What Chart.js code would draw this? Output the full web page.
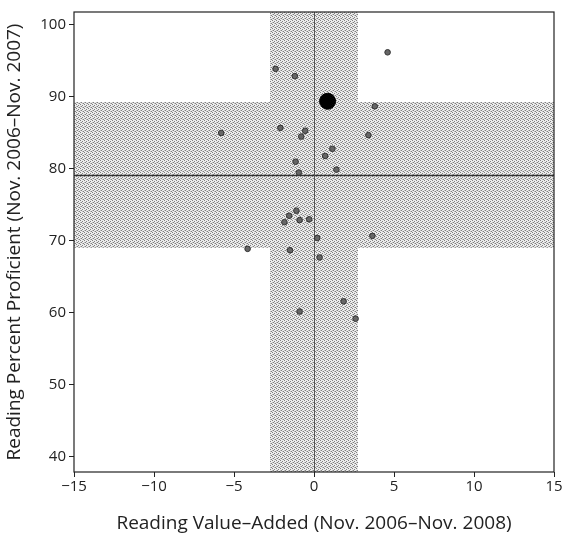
<!DOCTYPE html>
<html>
<head>
<meta charset="utf-8">
<script src="https://cdn.jsdelivr.net/npm/chart.js@4"></script>
<style>
  html, body { margin: 0; padding: 0; background: #fff; }
  #wrap { width: 564px; height: 539px; }
</style>
</head>
<body>
<div id="wrap"><canvas id="myChart" width="564" height="539"></canvas></div>
<script>
// school values (value-added vs percent proficient)
var valueAdded = [4.6, -2.4, -1.2, 3.8, -2.1, -0.55, -0.8, 3.4, 1.15, 0.7, -1.15, 1.4, -0.95,
  -1.1, -1.55, -1.85, -0.9, -0.3, 0.2, 3.65, -4.15, -1.5, 0.35, 1.85, -0.9, 2.6, -5.8];
var proficient = [96.2, 93.9, 92.9, 88.7, 85.7, 85.3, 84.5, 84.7, 82.8, 81.8, 81.0, 79.9, 79.5,
  74.2, 73.5, 72.6, 72.9, 73.0, 70.4, 70.7, 68.9, 68.7, 67.7, 61.6, 60.2, 59.2, 85.0];

// highlighted school
var focusX = [0.85];
var focusY = [89.4];

// means and bands (mean +/- one sd)
var meanX = 0;
var meanY = 79.1;
var bandX = [-2.75, 2.75];
var bandY = [69.05, 89.3];

var xTicks = [-15, -10, -5, 0, 5, 10, 15];
var yTicks = [40, 50, 60, 70, 80, 90, 100];

function makePoints(xs, ys) {
  var out = [];
  for (var i = 0; i < xs.length; i++) out.push({ x: xs[i], y: ys[i] });
  return out;
}

// stipple pattern for the shaded bands
function stipple(ctx) {
  var c = document.createElement("canvas");
  c.width = 4; c.height = 4;
  var p = c.getContext("2d");
  p.fillStyle = "#ececec";
  p.fillRect(0, 0, 4, 4);
  p.fillStyle = "#808080";
  p.fillRect(0, 0, 1, 1);
  p.fillRect(2, 1, 1, 1);
  p.fillRect(1, 2, 1, 1);
  p.fillRect(3, 3, 1, 1);
  p.fillStyle = "#bcbcbc";
  p.fillRect(2, 3, 1, 1);
  p.fillRect(0, 2, 1, 1);
  return ctx.createPattern(c, "repeat");
}

var bandsPlugin = {
  id: "bands",
  beforeDatasetsDraw: function (chart) {
    var ctx = chart.ctx;
    var a = chart.chartArea;
    var xs = chart.scales.x, ys = chart.scales.y;
    ctx.save();
    ctx.fillStyle = stipple(ctx);
    var y1 = ys.getPixelForValue(bandY[1]), y0 = ys.getPixelForValue(bandY[0]);
    ctx.fillRect(a.left, y1, a.right - a.left, y0 - y1);
    var x0 = xs.getPixelForValue(bandX[0]), x1 = xs.getPixelForValue(bandX[1]);
    ctx.fillRect(x0, a.top, x1 - x0, a.bottom - a.top);

    // mean lines
    ctx.strokeStyle = "#333";
    ctx.lineWidth = 1.5;
    var my = Math.round(ys.getPixelForValue(meanY)) + 0.5;
    ctx.beginPath(); ctx.moveTo(a.left, my); ctx.lineTo(a.right, my); ctx.stroke();
    ctx.strokeStyle = "#555";
    ctx.lineWidth = 1;
    var mx = Math.round(xs.getPixelForValue(meanX)) + 0.5;
    ctx.beginPath(); ctx.moveTo(mx, a.top); ctx.lineTo(mx, a.bottom); ctx.stroke();

    // frame
    ctx.strokeStyle = "#222";
    ctx.lineWidth = 1.2;
    ctx.strokeRect(a.left, a.top, a.right - a.left, a.bottom - a.top);
    ctx.restore();
  }
};

var ctx = document.getElementById("myChart").getContext("2d");
var myChart = new Chart(ctx, {
  type: "scatter",
  data: {
    datasets: [
      {
        label: "schools",
        data: makePoints(valueAdded, proficient),
        backgroundColor: "#666",
        borderColor: "#333",
        borderWidth: 1,
        pointRadius: 2.8,
      },
      {
        label: "focus",
        data: makePoints(focusX, focusY),
        backgroundColor: "#000",
        borderColor: "#000",
        pointRadius: 8,
      },
    ],
  },
  options: {
    responsive: false,
    animation: false,
    layout: { padding: { top: 8, right: 10, left: 0, bottom: 0 } },
    plugins: { legend: { display: false }, tooltip: { enabled: false } },
    scales: {
      x: {
        type: "linear",
        min: -15,
        max: 15,
        afterBuildTicks: function (s) { s.ticks = xTicks.map(function (v) { return { value: v }; }); },
        afterFit: function (s) { s.height = 67; },
        grid: { drawOnChartArea: false, tickLength: 5, color: "#222" },
        border: { display: false },
        ticks: {
          color: "#222",
          font: { family: "Open Sans", size: 15 },
          padding: 1,
          callback: function (v) { return v < 0 ? "\u2212" + Math.abs(v) : v; },
        },
        title: {
          display: true,
          text: "Reading Value\u2013Added (Nov. 2006\u2013Nov. 2008)",
          color: "#222",
          font: { family: "Open Sans", size: 19 },
          padding: { top: 1, bottom: 4 },
        },
      },
      y: {
        type: "linear",
        min: 37.9,
        max: 101.8,
        afterBuildTicks: function (s) { s.ticks = yTicks.map(function (v) { return { value: v }; }); },
        afterFit: function (s) { s.width = 74; },
        grid: { drawOnChartArea: false, tickLength: 5, color: "#222" },
        border: { display: false },
        ticks: {
          color: "#222",
          font: { family: "Open Sans", size: 15 },
          padding: 3,
        },
        title: {
          display: true,
          text: "Reading Percent Proficient (Nov. 2006\u2013Nov. 2007)",
          color: "#222",
          font: { family: "Open Sans", size: 19 },
          padding: { top: 3, bottom: 1 },
        },
      },
    },
  },
  plugins: [bandsPlugin],
});
</script>
</body>
</html>
